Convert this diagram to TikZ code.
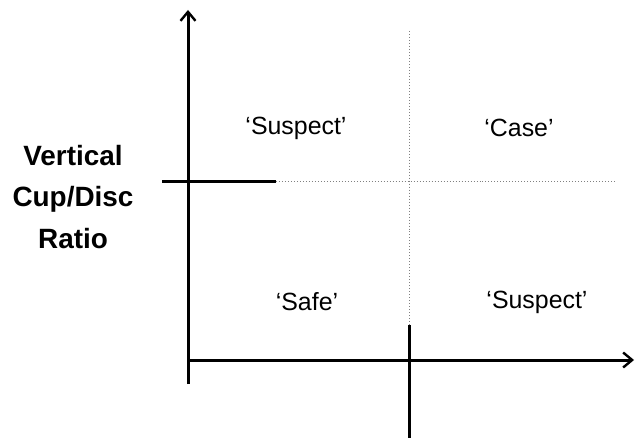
\documentclass[tikz,border=0pt]{standalone}
\usepackage{fontspec}
\setmainfont{Liberation Sans}
\usetikzlibrary{arrows.meta}
\begin{document}
\begin{tikzpicture}[x=1bp,y=-1bp,
  axis/.style={line width=3bp,-{Straight Barb[length=9bp,width=15bp,line width=2.4bp]}},
  solidline/.style={line width=3bp},
  dotline/.style={line width=1bp,gray,dotted},
  quad/.style={font=\fontsize{25}{30}\selectfont},
  ylab/.style={font=\fontsize{28}{42}\selectfont\bfseries,align=center}]
\useasboundingbox (0,0) rectangle (635,439);
\coordinate (yb) at (188,384);
\coordinate (yt) at (188,10);
\coordinate (xl) at (188,360);
\coordinate (xr) at (634,360);
\coordinate (hl) at (162,182);
\coordinate (hm) at (276,182);
\coordinate (hr) at (617,182);
\coordinate (vt) at (409,31);
\coordinate (vm) at (409,325);
\coordinate (vb) at (409,438);
\draw[axis] (yb) -- (yt);
\draw[axis] (xl) -- (xr);
\draw[solidline] (hl) -- (hm);
\draw[dotline] (hm) -- (hr);
\draw[dotline] (vt) -- (vm);
\draw[solidline] (vm) -- (vb);
\node[quad] (s1) at (296,128) {‘Suspect’};
\node[quad] (c) at (519,128) {‘Case’};
\node[quad] (sf) at (307,302) {‘Safe’};
\node[quad] (s2) at (537,302) {‘Suspect’};
\node[ylab] (yl) at (73,197) {Vertical\\Cup/Disc\\Ratio};
\end{tikzpicture}
\end{document}
